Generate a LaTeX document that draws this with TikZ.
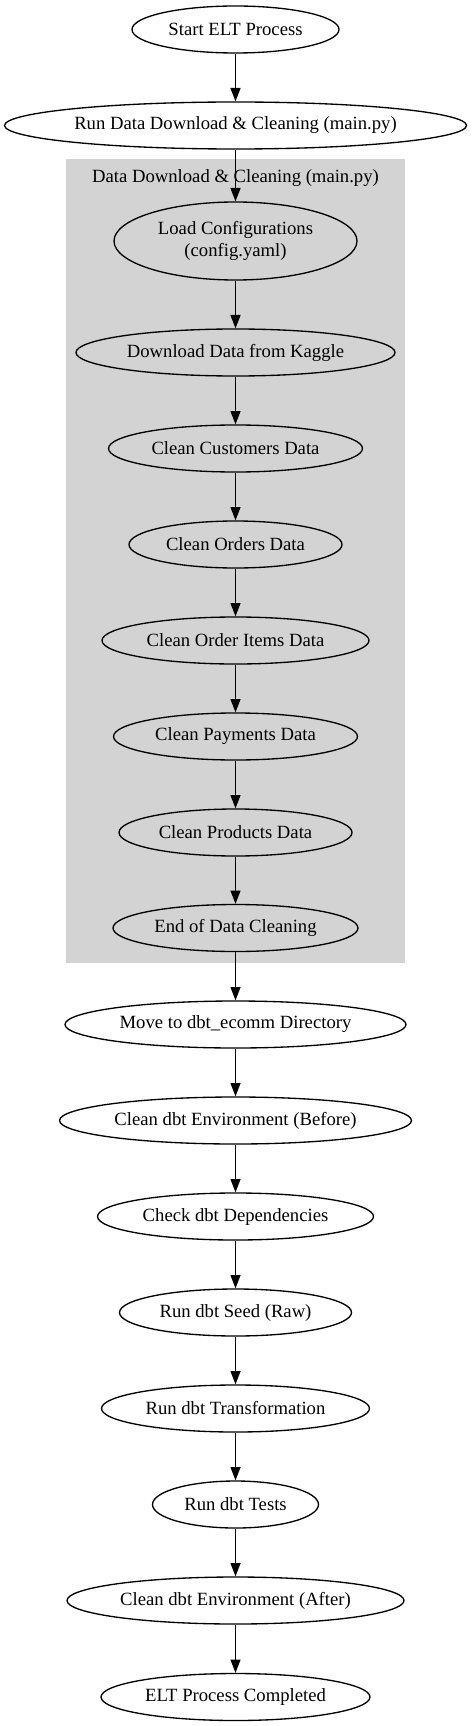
\documentclass[tikz,border=0pt]{standalone}
\usepackage{fontspec}
\setmainfont{Liberation Serif}
\usetikzlibrary{shapes.geometric,arrows.meta}
\definecolor{clustergrey}{RGB}{211,211,211}
\begin{document}
\begin{tikzpicture}[x=0.75pt,y=-0.75pt,
  stage/.style={draw=black,line width=1pt,ellipse,inner sep=0pt,
    font=\fontsize{14pt}{17pt}\selectfont,align=center},
  flow/.style={draw=black,line width=1pt,-{Triangle[length=10pt,width=7.5pt]}}]
\useasboundingbox (0,0) rectangle (471,1726);
\fill[clustergrey] (66,159) rectangle (405,963);
\node[font=\fontsize{14pt}{17pt}\selectfont] (clab) at (235.5,178) {Data Download \& Cleaning (main.py)};
\node[stage,minimum width=207*0.75pt,minimum height=47*0.75pt] (start) at (235.5,29.5) {Start ELT Process};
\node[stage,minimum width=462*0.75pt,minimum height=47*0.75pt] (run) at (235.5,125.5) {Run Data Download \& Cleaning (main.py)};
\node[stage,minimum width=243*0.75pt,minimum height=78*0.75pt] (load) at (235.5,241) {Load Configurations\\(config.yaml)};
\node[stage,minimum width=319*0.75pt,minimum height=47*0.75pt] (dl) at (235.5,352.5) {Download Data from Kaggle};
\node[stage,minimum width=254*0.75pt,minimum height=47*0.75pt] (cust) at (235.5,448.5) {Clean Customers Data};
\node[stage,minimum width=213*0.75pt,minimum height=47*0.75pt] (ord) at (235.5,544.5) {Clean Orders Data};
\node[stage,minimum width=267*0.75pt,minimum height=47*0.75pt] (items) at (235.5,640.5) {Clean Order Items Data};
\node[stage,minimum width=244*0.75pt,minimum height=47*0.75pt] (pay) at (235.5,736.5) {Clean Payments Data};
\node[stage,minimum width=233*0.75pt,minimum height=47*0.75pt] (prod) at (235.5,832.5) {Clean Products Data};
\node[stage,minimum width=245*0.75pt,minimum height=47*0.75pt] (endc) at (235.5,928) {End of Data Cleaning};
\node[stage,minimum width=341*0.75pt,minimum height=47*0.75pt] (move) at (235.5,1024.5) {Move to dbt\_ecomm Directory};
\node[stage,minimum width=352*0.75pt,minimum height=47*0.75pt] (cleanb) at (235.5,1120.5) {Clean dbt Environment (Before)};
\node[stage,minimum width=276*0.75pt,minimum height=47*0.75pt] (deps) at (235.5,1216.5) {Check dbt Dependencies};
\node[stage,minimum width=232*0.75pt,minimum height=47*0.75pt] (seed) at (235.5,1312.5) {Run dbt Seed (Raw)};
\node[stage,minimum width=268*0.75pt,minimum height=47*0.75pt] (trans) at (235.5,1408.5) {Run dbt Transformation};
\node[stage,minimum width=166*0.75pt,minimum height=47*0.75pt] (tests) at (235.5,1504.5) {Run dbt Tests};
\node[stage,minimum width=337*0.75pt,minimum height=47*0.75pt] (cleana) at (235.5,1600.5) {Clean dbt Environment (After)};
\node[stage,minimum width=269*0.75pt,minimum height=47*0.75pt] (done) at (235.5,1697) {ELT Process Completed};
\foreach \a/\b in {start/run,run/load,load/dl,dl/cust,cust/ord,ord/items,items/pay,pay/prod,prod/endc,endc/move,move/cleanb,cleanb/deps,deps/seed,seed/trans,trans/tests,tests/cleana,cleana/done}
  \draw[flow] (\a) -- (\b);
\end{tikzpicture}
\end{document}
